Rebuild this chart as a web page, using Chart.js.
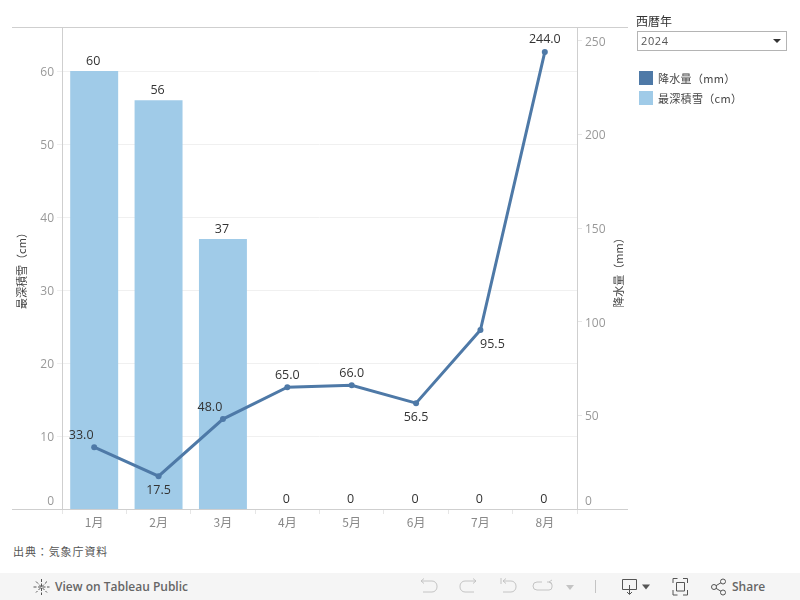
<!DOCTYPE html>
<html lang="ja">
<head>
<meta charset="utf-8">
<title>降水量と最深積雪</title>
<script src="https://cdn.jsdelivr.net/npm/chart.js@4/dist/chart.umd.min.js"></script>
<style>
html,body{margin:0;padding:0;background:#fff;width:800px;height:600px;overflow:hidden;
  font-family:"Noto Sans CJK JP","Open Sans",sans-serif;color:#555}
#chart{position:absolute;left:0;top:0}
.abs{position:absolute;white-space:nowrap}
#filterTitle{left:636px;top:13px;font-size:12px;line-height:16px;color:#333}
#filter{left:637px;top:31px;width:148px;height:18px;border:1px solid #b4b4b4;font:11px "Open Sans",sans-serif;letter-spacing:.6px;line-height:18px;color:#555;text-indent:3px}
#filter i{position:absolute;right:5px;top:7px;width:0;height:0;border:4px solid transparent;border-top:4px solid #333;border-bottom:0}
.lg{left:639px;font-size:11px;line-height:15px;color:#444;padding-left:19px;letter-spacing:.3px}
.lg b{position:absolute;left:0;top:0;width:14px;height:14px}
#source{left:13px;top:544px;font-size:11px;line-height:15px;color:#555;letter-spacing:.9px}
#bar{position:absolute;left:0;top:573px;width:800px;height:27px;background:#f5f5f5}
#bar span{position:absolute;top:6px;font:600 12px/15px "Open Sans",sans-serif;color:#666}
#bar svg{position:absolute;left:0;top:0}
</style>
</head>
<body>
<canvas id="chart" width="640" height="535"></canvas>
<div id="filterTitle" class="abs"></div>
<div id="filter" class="abs"></div>
<div id="legend"></div>
<div id="source" class="abs">出典：気象庁資料</div>
<div id="bar">
  <span style="left:55px">View on Tableau Public</span>
  <span style="left:732px">Share</span>
  <svg width="800" height="27" fill="none" stroke-width="1">
    <g stroke="#555"><path d="M41.500 6v16M33.500 14h16M36 8.500l11 11M47 8.500l-11 11" stroke-dasharray="3 1.500"/></g>
    <g stroke="#c4c4c4">
      <path d="M421 8h11a5 5 0 0 1 5 5v1a5 5 0 0 1-5 5h-9M421 8l3-2.500M421 8l3 2.500"/>
      <path d="M476 8h-11a5 5 0 0 0-5 5v1a5 5 0 0 0 5 5h9M476 8l-3-2.500M476 8l-3 2.500"/>
      <path d="M501 5v6M503 8h8a5 5 0 0 1 5 5v1a5 5 0 0 1-5 5h-8M503 8l3-2.500M503 8l3 2.500"/>
      <path d="M542 9h-5a4 4 0 0 0-4 4 4 4 0 0 0 4 4h12a3 3 0 0 0 3-3v-2a3 3 0 0 0-3-3h-2M549 9l3-2M549 9l3 2"/>
      <path d="M595.500 7v13"/>
    </g>
    <path d="M566 12h8l-4 5z" fill="#c4c4c4"/>
    <g stroke="#555">
      <path d="M622.500 6.500h14v10h-14zM629.500 12v9M627 19l2.500 2.500 2.500-2.500"/>
      <path d="M673 10V5.500h4.500M683 5.500h4.500V10M687.500 17v5h-4.500M677.500 22H673v-5M676.500 9.500h8v8.500h-8z"/>
      <circle cx="714" cy="14" r="2.500"/><circle cx="723" cy="8.500" r="2.500"/><circle cx="723" cy="19.500" r="2.500"/>
      <path d="M716 12.700l5-3M716 15.300l5 3"/>
    </g>
    <path d="M642 11.500h8l-4 5z" fill="#555"/>
  </svg>
</div>
<script>
const months = ['1月','2月','3月','4月','5月','6月','7月','8月'];
const snowDepth = [60,56,37,0,0,0,0,0];
const rainfall = [33.0,17.5,48.0,65.0,66.0,56.5,95.5,244.0];
const rainName = '降水量（mm）';
const snowName = '最深積雪（cm）';
const snowTitle = '最深積雪（cm）';
const rainTitle = '降水量（mm）';
const filterName = '西暦年';
const filterValue = '2024';
const snowTicks = [0,10,20,30,40,50,60];
const rainTicks = [0,50,100,150,200,250];
const snowMax = 66.03;
const rainMax = 257.3;

const rainColor = '#4e79a7', snowColor = '#a0cbe8';
const FONT = '"Noto Sans CJK JP","Open Sans",sans-serif';
const NUM = '"Open Sans",sans-serif';

document.getElementById('filterTitle').textContent = filterName;
document.getElementById('filter').innerHTML = filterValue + '<i></i>';
document.getElementById('legend').innerHTML =
  [[rainName, rainColor, 71],[snowName, snowColor, 91]].map(r =>
   `<div class="abs lg" style="top:${r[2]}px"><b style="background:${r[1]}"></b>${r[0]}</div>`).join('');

// label placement per point: [dx, dy] from the mark, in px
const rainLabelOffset = [[-13,-12],[0,14],[-13,-12],[0,-12],[0,-12],[0,14],[12,14],[0,-12]];

const frame = {
  id:'frame',
  beforeDatasetsDraw(c){
    const g=c.ctx,a=c.chartArea;
    g.save(); g.strokeStyle='#cfcfcf'; g.lineWidth=1; g.beginPath();
    g.moveTo(12,a.top+.5); g.lineTo(628,a.top+.5);
    g.moveTo(12,a.bottom+.5); g.lineTo(628,a.bottom+.5);
    g.moveTo(a.left+.5,a.top); g.lineTo(a.left+.5,a.bottom);
    g.moveTo(a.right+.5,a.top); g.lineTo(a.right+.5,a.bottom);
    g.stroke(); g.restore();
  },
  afterDraw(c){
    const g=c.ctx,a=c.chartArea,x=c.scales.x,yS=c.scales.ySnow,yR=c.scales.yRain;
    g.save();
    g.fillStyle='#333'; g.font='12.5px '+NUM; g.textAlign='center'; g.textBaseline='middle';
    snowDepth.forEach((v,i)=>{
      g.fillText(String(v), x.getPixelForValue(i)-1, yS.getPixelForValue(v)-9.5);
    });
    rainfall.forEach((v,i)=>{
      const o=rainLabelOffset[i];
      g.fillText(v.toFixed(1), x.getPixelForValue(i)+o[0], yR.getPixelForValue(v)+o[1]);
    });
    g.translate(619,(a.top+a.bottom)/2+2); g.rotate(-Math.PI/2);
    g.fillStyle='#444'; g.font='11px '+FONT;
    g.fillText(rainTitle,0,0);
    g.restore();
  }
};

new Chart(document.getElementById('chart'),{
  data:{labels:months,datasets:[
    {type:'line',label:rainName,data:rainfall,yAxisID:'yRain',order:1,
     borderColor:rainColor,backgroundColor:rainColor,borderWidth:3,pointRadius:3,pointBorderWidth:0,pointHoverRadius:3,tension:0,clip:false},
    {type:'bar',label:snowName,data:snowDepth,yAxisID:'ySnow',order:2,
     backgroundColor:snowColor,borderWidth:0,categoryPercentage:1,barPercentage:.745}
  ]},
  plugins:[frame],
  options:{
    responsive:false,animation:false,
    layout:{padding:{top:27,left:0,right:0,bottom:0}},
    plugins:{legend:{display:false},tooltip:{enabled:false},title:{display:false}},
    scales:{
      x:{offset:true,
        border:{display:false},
        grid:{display:true,offset:true,drawOnChartArea:false,drawTicks:true,tickLength:5,color:'#e6e6e6'},
        ticks:{color:'#888',font:{family:FONT,size:12},padding:1,maxRotation:0,autoSkip:false},
        afterFit(s){s.height=26;}},
      ySnow:{position:'left',min:0,max:snowMax,
        afterBuildTicks(s){s.ticks=snowTicks.map(v=>({value:v}));},
        border:{display:false},
        grid:{color:'#f0f0f0',tickColor:'#f0f0f0',tickLength:5,lineWidth:c=>c.tick&&c.tick.value===0?0:1},
        ticks:{color:'#999',padding:3,labelOffset:1.5,
          font:c=>({family:NUM,size:12,lineHeight:c.tick&&c.tick.value===0?'18px':'16px'}),
          callback:v=>v===0?['0','']:String(v)},
        title:{display:true,text:snowTitle,color:'#444',font:{family:FONT,size:11},padding:{top:15,bottom:0}},
        afterFit(s){s.width=62;}},
      yRain:{position:'right',min:0,max:rainMax,
        afterBuildTicks(s){s.ticks=rainTicks.map(v=>({value:v}));},
        border:{display:false},
        grid:{drawOnChartArea:false,tickColor:'#e6e6e6',tickLength:5,lineWidth:c=>c.tick&&c.tick.value===0?0:1},
        ticks:{color:'#999',padding:3,labelOffset:1.5,
          font:c=>({family:NUM,size:12,lineHeight:c.tick&&c.tick.value===0?'18px':'16px'}),
          callback:v=>v===0?['0','']:String(v)},
        afterFit(s){s.width=63;}}
    }
  }
});
</script>
</body>
</html>
